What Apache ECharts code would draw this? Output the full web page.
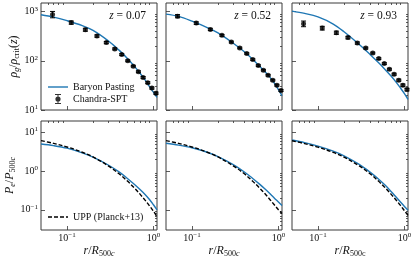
<!DOCTYPE html>
<html><head><meta charset="utf-8">
<script src="https://cdn.jsdelivr.net/npm/echarts@6/dist/echarts.min.js"></script>
<style>html,body{margin:0;padding:0;background:#fff}#c{width:415px;height:260px}</style>
</head><body><div id="c"></div>
<script>
// ---------- data ----------
const rGrid = [0.05,0.07,0.1,0.15,0.2,0.3,0.4,0.5,0.6,0.7,0.8,0.9,1.0,1.1];
const rData = [0.068,0.112,0.163,0.222,0.285,0.357,0.43,0.505,0.585,0.67,0.76,0.86,0.96,1.07];
const zLabels = ['0.07','0.52','0.93'];

// gas density, Baryon Pasting (on rGrid)
const densPaste1 = [865,775,655,520,415,255,165,112,78,56,41,30,23,18];
const densPaste2 = [890,800,640,475,370,228,155,109,79,60,46,35,26,19.5];
const densPaste3 = [1025,920,780,560,390,215,135,92,66,49,37,28,21.5,16.5];
// Chandra-SPT points (on rData) and errors
const densObs1 = [880,600,430,320,235,175,134,100,78,60,46,36,28,22];
const densObs2 = [811,585,436,330,241,183,141,106,80,64.5,51,40.5,32,25];
const densObs3 = [569,463,374,297,230,182,144,111,88,67.6,53.5,40.5,32,26];
const densErr1 = [130,45,30,18,12,8,6,4,3,2.5,2,1.6,1.4,1.2];
const densErr2 = [60,35,22,14,10,7,5,4,3,2.5,2,1.6,1.4,1.2];
const densErr3 = [75,40,28,18,12,8,6,4.5,3.5,3,2.5,2,1.8,1.6];

// electron pressure (on rGrid)
const presPaste1 = [5.07,4.6,3.95,3.0,2.32,1.45,0.96,0.65,0.46,0.335,0.25,0.185,0.135,0.1];
const presPaste2 = [5.3,4.75,4.05,3.1,2.38,1.48,0.97,0.66,0.47,0.345,0.26,0.2,0.16,0.13];
const presPaste3 = [6.45,5.5,4.45,3.3,2.5,1.5,0.95,0.63,0.43,0.3,0.215,0.16,0.122,0.098];
const presUPP1 = [6.2,5.25,4.25,3.1,2.34,1.38,0.86,0.555,0.37,0.255,0.178,0.127,0.092,0.066];
const presUPP2 = [6.2,5.25,4.25,3.1,2.34,1.38,0.87,0.56,0.375,0.26,0.183,0.133,0.1,0.08];
const presUPP3 = [6.15,5.2,4.2,3.08,2.32,1.37,0.86,0.555,0.37,0.255,0.18,0.13,0.095,0.072];

// ticks
const xMajorTicks = [0.1,1];
const xMinorTicks = [0.06,0.07,0.08,0.09,0.2,0.3,0.4,0.5,0.6,0.7,0.8,0.9];
const yMajorTop = [10,100,1000];
const yMinorTop = [20,30,40,50,60,70,80,90,200,300,400,500,600,700,800,900];
const yMajorBot = [0.1,1,10];
const yMinorBot = [0.04,0.05,0.06,0.07,0.08,0.09,0.2,0.3,0.4,0.5,0.6,0.7,0.8,0.9,2,3,4,5,6,7,8,9];

// ---------- styling ----------
const SERIF = '"Liberation Serif","DejaVu Serif",serif';
const BLUE = '#1f77b4';
const INK = '#111';
const FRAME = '#3a3a3a';
const xRange = [0.05,1.1];
const yRanges = [[10,1500],[0.03,20]];
const lefts = [41,166,292], W = 116;
const tops = [3,121], Hs = [107,109];

const rich = {
  b:{fontFamily:SERIF,fontSize:10,lineHeight:13,color:INK,verticalAlign:'middle'},
  s:{fontFamily:SERIF,fontSize:7,lineHeight:7,color:INK,verticalAlign:'top'},
  i:{fontFamily:SERIF,fontSize:12,lineHeight:14,fontStyle:'italic',color:INK,verticalAlign:'middle'},
  n:{fontFamily:SERIF,fontSize:12,lineHeight:14,color:INK,verticalAlign:'middle'},
  u:{fontFamily:SERIF,fontSize:8,lineHeight:8,color:INK,verticalAlign:'bottom'},
  ui:{fontFamily:SERIF,fontSize:8,lineHeight:8,fontStyle:'italic',color:INK,verticalAlign:'bottom'}
};
function pow10(v){
  const e = Math.round(Math.log10(v));
  return '{b|10}{s|' + (e<0 ? '\u2212'+(-e) : e) + '}';
}
const yNames = [
  '{i|ρ}{ui|g}{n|/}{i|ρ}{u|crit}{n|(}{i|z}{n|)}',
  '{i|P}{ui|e}{n|/}{i|P}{u|500}{ui|c}'
];
const xNames = ['{i|r}{n|/}{i|R}{u|500}{ui|c}','{i|r}{n|/}{i|R}{u|500}{ui|c}','{i|r}{n|/}{i|R}{u|500c}'];

const grids=[], xAxes=[], yAxes=[], series=[];
for (let row=0; row<2; row++){
  for (let col=0; col<3; col++){
    const gi = row*3+col;
    grids.push({left:lefts[col], top:tops[row], width:W, height:Hs[row], show:true,
      borderColor:FRAME, borderWidth:1, backgroundColor:'transparent', containLabel:false});
    const tickStyle = {color:'#333', width:0.8};
    xAxes.push({type:'log', logBase:10, gridIndex:gi, min:xRange[0], max:xRange[1],
      axisLine:{show:false}, splitLine:{show:false},
      axisTick:{show:true, inside:true, length:4, customValues:xMajorTicks, lineStyle:tickStyle},
      axisLabel:{show: row===1, customValues:xMajorTicks, formatter:pow10, rich:rich, margin:2},
      name: row===1 ? xNames[col] : '', nameLocation:'middle', nameGap:14,
      nameTextStyle:{rich:rich}});
    xAxes.push({type:'log', logBase:10, gridIndex:gi, min:xRange[0], max:xRange[1],
      axisLine:{show:false}, splitLine:{show:false}, axisLabel:{show:false},
      axisTick:{show:true, inside:true, length:2, customValues:xMinorTicks, lineStyle:tickStyle}});
    const yr = yRanges[row];
    const yMaj = row===0 ? yMajorTop : yMajorBot;
    const yMin = row===0 ? yMinorTop : yMinorBot;
    yAxes.push({type:'log', logBase:10, gridIndex:gi, min:yr[0], max:yr[1],
      axisLine:{show:false}, splitLine:{show:false},
      axisTick:{show:true, inside:true, length:4, customValues:yMaj, lineStyle:tickStyle},
      axisLabel:{show: col===0, customValues:yMaj, formatter:pow10, rich:rich, margin:3},
      name: col===0 ? yNames[row] : '', nameLocation:'middle', nameGap:16, nameRotate:90,
      nameTextStyle:{rich:rich}});
    yAxes.push({type:'log', logBase:10, gridIndex:gi, min:yr[0], max:yr[1],
      axisLine:{show:false}, splitLine:{show:false}, axisLabel:{show:false},
      axisTick:{show:true, inside:true, length:2, customValues:yMin, lineStyle:tickStyle}});
  }
}

const paste = [densPaste1,densPaste2,densPaste3];
const obs = [densObs1,densObs2,densObs3];
const errs = [densErr1,densErr2,densErr3];
const pP = [presPaste1,presPaste2,presPaste3];
const pU = [presUPP1,presUPP2,presUPP3];

function errRender(params, api){
  const x = api.value(0), lo = api.value(1), hi = api.value(2);
  const a = api.coord([x,lo]), b = api.coord([x,hi]);
  const cw = 2.5, st = {stroke:'#000', lineWidth:1};
  return {type:'group', children:[
    {type:'line', shape:{x1:a[0],y1:a[1],x2:b[0],y2:b[1]}, style:st},
    {type:'line', shape:{x1:a[0]-cw,y1:a[1],x2:a[0]+cw,y2:a[1]}, style:st},
    {type:'line', shape:{x1:b[0]-cw,y1:b[1],x2:b[0]+cw,y2:b[1]}, style:st}
  ]};
}

for (let col=0; col<3; col++){
  const gi = col, ax = 2*gi;
  series.push({type:'line', name:'Baryon Pasting', xAxisIndex:ax, yAxisIndex:ax,
    data: rGrid.map((r,i)=>[r,paste[col][i]]), symbol:'none', smooth:0.35,
    lineStyle:{color:BLUE,width:1.4}, itemStyle:{color:BLUE}, z:2, animation:false});
  series.push({type:'custom', name:'errbars', xAxisIndex:ax, yAxisIndex:ax,
    data: rData.map((r,i)=>[r, obs[col][i]-errs[col][i], obs[col][i]+errs[col][i]]),
    encode:{x:0, y:[1,2]}, renderItem:errRender, z:3, animation:false});
  series.push({type:'scatter', name:'Chandra-SPT', xAxisIndex:ax, yAxisIndex:ax,
    data: rData.map((r,i)=>[r,obs[col][i]]), symbol:'circle', symbolSize:5,
    itemStyle:{color:'#000'}, z:4, animation:false});
  const gb = 3+col, bx = 2*gb;
  series.push({type:'line', name:'Baryon Pasting', xAxisIndex:bx, yAxisIndex:bx,
    data: rGrid.map((r,i)=>[r,pP[col][i]]), symbol:'none', smooth:0.35,
    lineStyle:{color:BLUE,width:1.4}, itemStyle:{color:BLUE}, z:2, animation:false});
  series.push({type:'line', name:'UPP (Planck+13)', xAxisIndex:bx, yAxisIndex:bx,
    data: rGrid.map((r,i)=>[r,pU[col][i]]), symbol:'none', smooth:0.35,
    lineStyle:{color:'#000',width:1.4,type:[4,2]}, itemStyle:{color:'#000'}, z:3, animation:false});
}

const errIcon = 'path://M4.5,0H5.5V10H4.5Z M2,0H8V1H2Z M2,9H8V10H2Z M5,2.4A2.6,2.6,0,1,1,4.99,2.4Z';
const lineIcon = 'path://M0,4.3H20V5.7H0Z';
const dashIcon = 'path://M0,4.3H4V5.7H0Z M6,4.3H10V5.7H6Z M12,4.3H16V5.7H12Z M18,4.3H20V5.7H18Z';
const legTxt = {fontFamily:SERIF, fontSize:10, color:INK, lineHeight:12};

const option = {
  animation:false,
  backgroundColor:'#fff',
  grid:grids, xAxis:xAxes, yAxis:yAxes, series:series,
  legend:[
    {left:48, top:81, orient:'vertical', padding:0, itemGap:0, itemWidth:20, itemHeight:10,
     selectedMode:false, textStyle:legTxt,
     data:[{name:'Baryon Pasting', icon:lineIcon},{name:'Chandra-SPT', icon:errIcon}]},
    {left:48, top:211, orient:'vertical', padding:0, itemGap:0, itemWidth:20, itemHeight:10,
     selectedMode:false, textStyle:legTxt,
     data:[{name:'UPP (Planck+13)', icon:dashIcon}]}
  ],
  graphic: zLabels.map((z,c)=>({type:'text', x:lefts[c]+W-11, y:16,
    style:{text:'{zi|z}{zn| = '+z+'}', align:'right', verticalAlign:'middle',
      rich:{zi:{fontFamily:SERIF,fontSize:11.5,fontStyle:'italic',fill:INK},
            zn:{fontFamily:SERIF,fontSize:11.5,fill:INK}}}}))
};
const chart = echarts.init(document.getElementById('c'), null, {renderer:'canvas'});
chart.setOption(option);
</script></body></html>
